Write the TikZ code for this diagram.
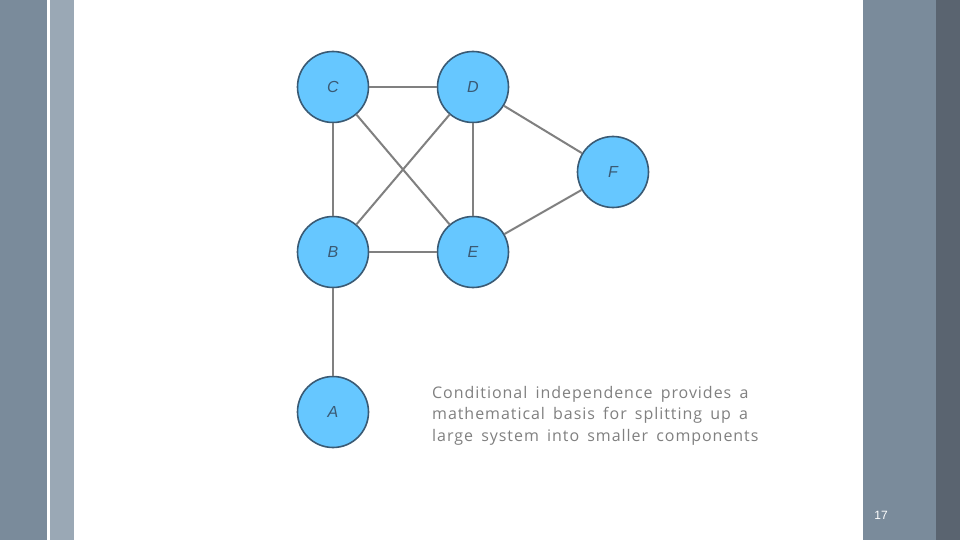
\documentclass[tikz,border=0pt]{standalone}
\usepackage{fontspec}
\setmainfont{Liberation Sans}
\newfontfamily\notefont[LetterSpace=6,WordSpace=1.6]{Open Sans}
\usetikzlibrary{positioning}
\definecolor{barmid}{HTML}{7A8B9B}
\definecolor{barlight}{HTML}{9AA8B5}
\definecolor{bardark}{HTML}{5A6470}
\definecolor{nodefill}{HTML}{66C7FF}
\definecolor{nodeline}{HTML}{3A5A74}
\definecolor{edgegray}{HTML}{808080}

\begin{document}
\begin{tikzpicture}[x=1pt,y=-1pt,
    var/.style={draw=nodeline,line width=1.6pt,fill=nodefill,circle,minimum size=71pt,inner sep=0pt,font=\fontsize{16}{16}\selectfont\itshape,text=nodeline},
    link/.style={draw=edgegray,line width=2pt}]
    % slide background
    \useasboundingbox (0,0) rectangle (960,540);
    \fill[white] (0,0) rectangle (960,540);
    \fill[barmid] (0,0) rectangle (47,540);
    \fill[barlight] (50,0) rectangle (74,540);
    \fill[barmid] (863,0) rectangle (936,540);
    \fill[bardark] (936,0) rectangle (960,540);
    
    \node[var] (c) at (333,87) {C};
    \node[var] (d) at (473,87) {D};
    \node[var] (f) at (613,172) {F};
    \node[var] (b) at (333,252) {B};
    \node[var] (e) at (473,252) {E};
    \node[var] (a) at (333,412) {A};
    
    \draw[link] (c) -- (d);
    \draw[link] (c) -- (b);
    \draw[link] (c) -- (e);
    \draw[link] (d) -- (b);
    \draw[link] (d) -- (e);
    \draw[link] (d) -- (f);
    \draw[link] (e) -- (f);
    \draw[link] (b) -- (e);
    \draw[link] (b) -- (a);
    
    \node[anchor=north west,align=left,inner sep=0pt,text=edgegray,font=\notefont\fontsize{16}{21.5}\selectfont] (note) at (432,386)
      {Conditional independence provides a\\mathematical basis for splitting up a\\large system into smaller components};
    \node[text=white,font=\fontsize{12}{12}\selectfont] (page) at (881,515) {17};
\end{tikzpicture}
\end{document}
